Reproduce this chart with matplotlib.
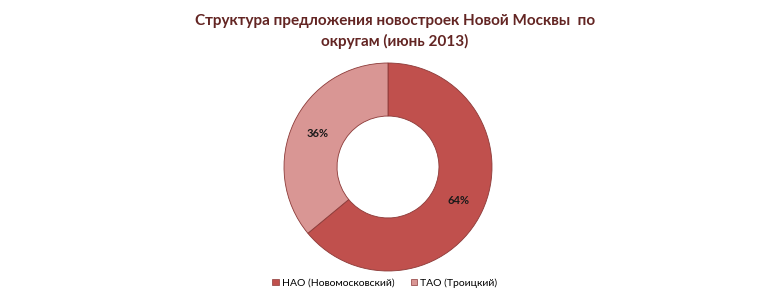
import matplotlib.pyplot as plt
from matplotlib.patches import Patch

labels = ['НАО (Новомосковский)', 'ТАО (Троицкий)']
shares = [64, 36]
colors = ['#C0504D', '#D99694']

plt.rcParams['font.family'] = ['Lato', 'DejaVu Sans']

fig = plt.figure(figsize=(7.7, 3.07), dpi=100)
# axes placed so the ring is centred near (388, 167) px, radius ~104 px
r_px = 104
cx, cy = 388, 167
ax = fig.add_axes([(cx - r_px) / 770, 1 - (cy + r_px) / 307, 2 * r_px / 770, 2 * r_px / 307])

wedges, texts, autotexts = ax.pie(
    shares, colors=colors, startangle=90, counterclock=False,
    radius=1.0, autopct='%d%%', pctdistance=0.75,
    wedgeprops=dict(width=0.51, edgecolor='#8c3a38', linewidth=0.6),
    textprops=dict(fontsize=8, fontweight='bold', color='#1a1a1a'))
ax.set_xlim(-1, 1)
ax.set_ylim(-1, 1)
ax.set_aspect('equal')
ax.axis('off')

fig.text(0.513, 0.898, 'Структура предложения новостроек Новой Москвы  по\nокругам (июнь 2013)',
         ha='center', va='center', fontsize=11, fontweight='bold', color='#632523',
         linespacing=1.5)

handles = [Patch(facecolor=c, edgecolor='#8c3a38', linewidth=0.5) for c in colors]
fig.legend(handles, labels, loc='center', bbox_to_anchor=(0.50, 0.078), ncol=2,
           frameon=False, fontsize=7.5, handlelength=0.6, handleheight=0.6,
           handletextpad=0.3, columnspacing=1.6)

fig.savefig('out.png', dpi=100)
